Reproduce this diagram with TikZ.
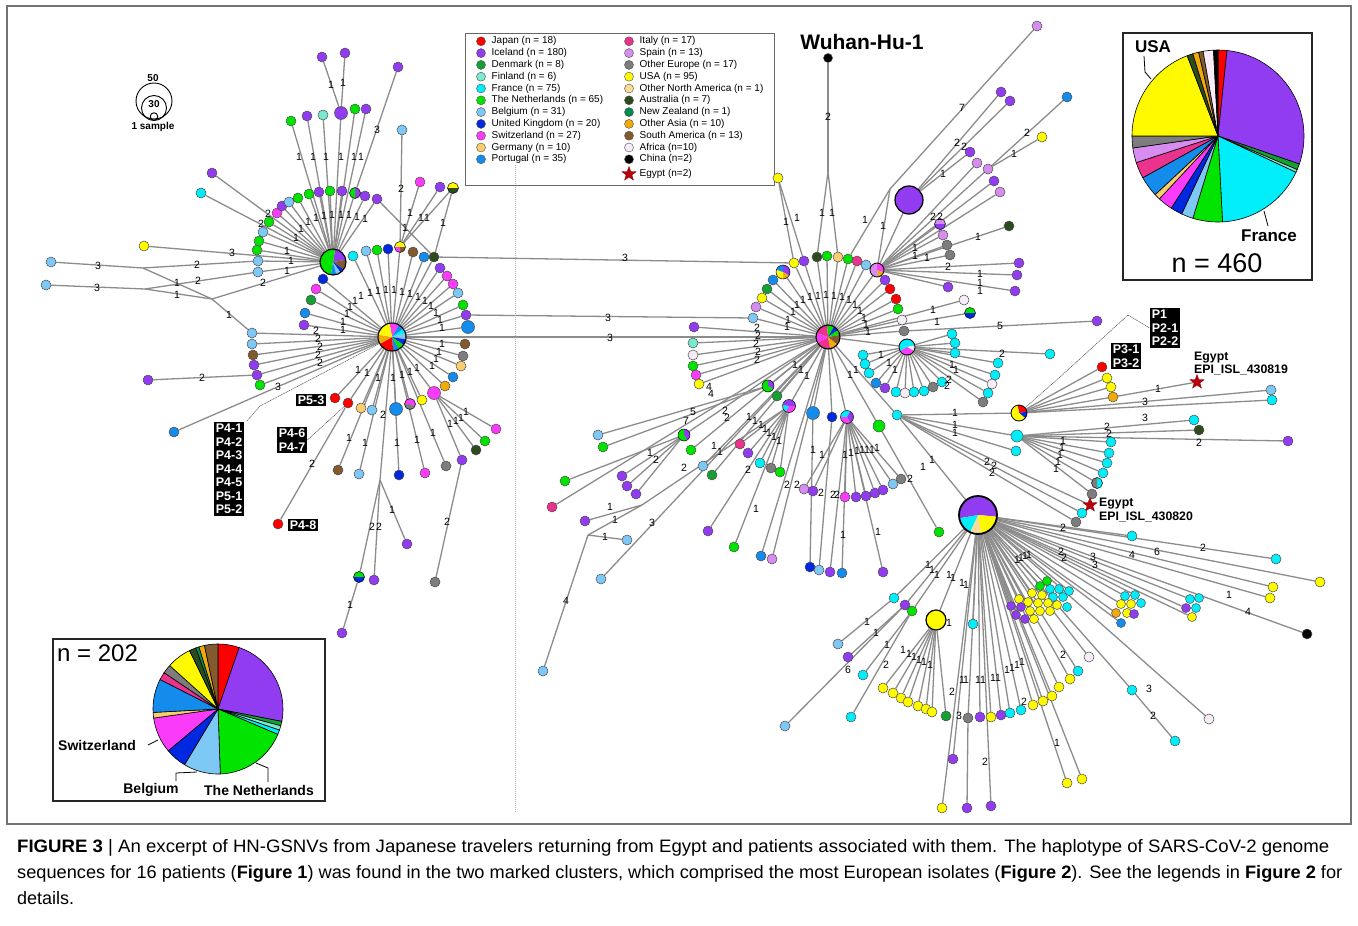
\documentclass[tikz,border=0pt]{standalone}
\usepackage{fontspec}
\setmainfont{Liberation Sans}
\usetikzlibrary{shapes.geometric}
\pgfdeclarelayer{back}
\pgfdeclarelayer{bg}
\pgfsetlayers{back,bg,main}
\definecolor{JP}{RGB}{255,0,0}
\definecolor{IS}{RGB}{145,60,240}
\definecolor{DK}{RGB}{20,160,50}
\definecolor{FI}{RGB}{120,235,205}
\definecolor{FR}{RGB}{0,238,250}
\definecolor{NL}{RGB}{0,228,0}
\definecolor{BE}{RGB}{125,200,245}
\definecolor{UK}{RGB}{0,40,225}
\definecolor{CH}{RGB}{250,60,250}
\definecolor{DE}{RGB}{250,205,110}
\definecolor{PT}{RGB}{20,140,235}
\definecolor{IT}{RGB}{235,50,140}
\definecolor{ES}{RGB}{215,140,240}
\definecolor{OE}{RGB}{125,125,125}
\definecolor{US}{RGB}{255,250,0}
\definecolor{ONA}{RGB}{250,220,150}
\definecolor{AU}{RGB}{45,75,30}
\definecolor{NZ}{RGB}{0,140,80}
\definecolor{OA}{RGB}{240,170,10}
\definecolor{SA}{RGB}{130,90,45}
\definecolor{AF}{RGB}{248,236,248}
\definecolor{CN}{RGB}{0,0,0}
\definecolor{EG}{RGB}{185,0,10}
\definecolor{EC}{RGB}{140,140,140}
\tikzset{
 e/.style={draw=EC, line width=1.3pt},
 thinl/.style={draw=black!75, line width=0.45pt, dash pattern=on 1.2pt off 0.6pt},
 nd/.style={circle, draw=black!70, line width=0.5pt, minimum size=10pt, inner sep=0pt},
 cl/.style={nd, minimum size=9pt},
 lb/.style={font=\fontsize{10.5}{10.5}\selectfont, inner sep=0pt},
 pbox/.style={fill=black, text=white, font=\bfseries\fontsize{12.5}{13.5}\selectfont, inner sep=2pt, align=left},
 leg/.style={font=\fontsize{10}{10}\selectfont, anchor=west, inner sep=0pt},
 legdot/.style={circle, draw=black!70, line width=0.4pt, minimum size=9pt, inner sep=0pt},
 egstar/.style={star, star points=5, star point ratio=2.4, fill=EG, draw=EG!70!black, line width=0.3pt, minimum size=15pt, inner sep=0pt},
 elab/.style={font=\bfseries\fontsize{12.3}{12}\selectfont, anchor=west, inner sep=0pt},
 boxed/.style={draw=black!85, line width=1.4pt},
 captxt/.style={anchor=base west, inner sep=0pt, font=\fontsize{18}{20}\selectfont},
}
\newcommand\leaves[2]{\foreach \lX/\lY/\lC [count=\lI] in {#2} {\node[nd, fill=\lC] (#1\lI) at (\lX,\lY) {};}}
\newcommand\cleaves[2]{\foreach \lX/\lY/\lC [count=\lI] in {#2} {\node[cl, fill=\lC] (#1\lI) at (\lX,\lY) {};}}
\newcommand\fan[3]{\foreach \fX in {#3} {\draw[e] (#1) -- (#2\fX);}}
\newcommand\pienode[5][1.1pt]{\node[circle, minimum size=#4*2pt, inner sep=0pt] (#2) at (#3) {};
 \foreach \sA/\sB/\sC in {#5} {\fill[fill=\sC] (#2.center) -- ++(\sA:#4pt) arc[start angle=\sA, end angle=\sB, radius=#4pt] -- cycle;}
 \draw[line width=#1] (#2.center) circle[radius=#4pt];}
\newcommand\bigpie[3]{\foreach \sA/\sB/\sC in {#3} {\filldraw[fill=\sC, draw=black, line width=0.6pt] (#1) -- ++(\sA:#2pt) arc[start angle=\sA, end angle=\sB, radius=#2pt] -- cycle;}}
\newcommand\labs[2]{\foreach \tX/\tY/\tT [count=\tI] in {#2} {\node[lb] (#1\tI) at (\tX,\tY) {\tT};}}
\begin{document}
\begin{tikzpicture}[x=1pt,y=-1pt]
\useasboundingbox (0,0) rectangle (1358,926);
\begin{pgfonlayer}{back}
\fill[white] (0,0) rectangle (1358,926);
\end{pgfonlayer}
\draw[black!55, line width=1.2pt] (7,6) rectangle (1351,824);
\draw[black!30, line width=0.8pt, dash pattern=on 1pt off 1pt] (515,165) -- (515,812);

% ---------- scale legend ----------
\node[circle, draw=black, line width=0.9pt, minimum size=36pt, inner sep=0pt] (s50) at (154,101) {};
\node[circle, draw=black, line width=0.9pt, minimum size=25pt, inner sep=0pt] (s30) at (154,108) {};
\node[circle, draw=black, line width=0.9pt, minimum size=7.5pt, inner sep=0pt] (s1) at (154,116.5) {};
\node[font=\bfseries\fontsize{10}{10}\selectfont, inner sep=0pt] (t50) at (153,78) {50};
\node[font=\bfseries\fontsize{10}{10}\selectfont, inner sep=0pt] (t30) at (154,104) {30};
\node[font=\bfseries\fontsize{10}{10}\selectfont, inner sep=0pt] (t1) at (153,127) {1 sample};

% ---------- legend ----------
\node[draw=black!60, line width=1pt, minimum width=309pt, minimum height=152pt, anchor=north west, inner sep=0pt] (legbox) at (465,33) {};
\foreach \gT/\gC [count=\gI] in {Japan (n = 18)/JP, Iceland (n = 180)/IS, Denmark (n = 8)/DK, Finland (n = 6)/FI, France (n = 75)/FR, The Netherlands (n = 65)/NL, Belgium (n = 31)/BE, United Kingdom (n = 20)/UK, Switzerland (n = 27)/CH, Germany (n = 10)/DE, Portugal (n = 35)/PT}
 {\node[legdot, fill=\gC] (ld\gI) at (481, 29.5+11.8*\gI) {}; \node[leg] (lt\gI) at (491.5, 29.5+11.8*\gI) {\gT};}
\foreach \gT/\gC [count=\gI] in {Italy (n = 17)/IT, Spain (n = 13)/ES, Other Europe (n = 17)/OE, USA (n = 95)/US, Other North America (n = 1)/ONA, Australia (n = 7)/AU, New Zealand (n = 1)/NZ, Other Asia (n = 10)/OA, South America (n = 13)/SA, Africa (n=10)/AF, China (n=2)/CN}
 {\node[legdot, fill=\gC] (rd\gI) at (629, 29.5+11.8*\gI) {}; \node[leg] (rt\gI) at (639.5, 29.5+11.8*\gI) {\gT};}
\node[egstar] (rdeg) at (629,174) {};
\node[leg] (rteg) at (639.5,174) {Egypt (n=2)};

% ---------- Wuhan ----------
\node[font=\bfseries\fontsize{21}{21}\selectfont, inner sep=0pt] (wutxt) at (862,42) {Wuhan-Hu-1};

% ---------- pie boxes ----------
\draw[boxed] (1123,33) rectangle (1312,280);
\coordinate (pR) at (1218,136);
\bigpie{pR}{86}{90/84/JP, 84/-19/IS, -19/-23/DK, -23/-25/FI, -25/-87/FR, -87/-107/NL, -107/-115/BE, -115/-123/UK, -123/-133/CH, -133/-137/DE, -137/-151/PT, -151/-162/IT, -162/-172/ES, -172/-180/OE, -180/-249/US, -249/-253/AU, -253/-257/OA, -257/-260/SA, -260/-267/AF, -267/-270/CN}
\node[font=\bfseries\fontsize{17}{17}\selectfont, inner sep=0pt] (usat) at (1153,47) {USA};
\draw[black, line width=0.8pt] (1144,56) -- (1145,72) -- (1151,79);
\node[font=\bfseries\fontsize{17}{17}\selectfont, inner sep=0pt] (frt) at (1269,236) {France};
\draw[black, line width=0.8pt] (1264,211) -- (1268,226);
\node[font=\fontsize{27}{27}\selectfont, inner sep=0pt] (n460) at (1217,263) {n = 460};

\draw[boxed] (53,639) rectangle (325,801);
\coordinate (pL) at (218,709);
\bigpie{pL}{65}{90/71/JP, 71/-11/IS, -11/-15/DK, -15/-19/FI, -19/-23/FR, -23/-88/NL, -88/-121/BE, -121/-140/UK, -140/-172/CH, -172/-177/DE, -177/-207/PT, -207/-214/IT, -214/-222/OE, -222/-244/US, -244/-250/AU, -250/-253/NZ, -253/-258/OA, -258/-270/SA}
\node[font=\fontsize{24}{24}\selectfont, inner sep=0pt, anchor=west] (n202) at (57,653) {n = 202};
\node[font=\bfseries\fontsize{14}{14}\selectfont, inner sep=0pt, anchor=west] (swt) at (58,745) {Switzerland};
\draw[black, line width=0.8pt] (148,745) -- (158,740);
\node[font=\bfseries\fontsize{14}{14}\selectfont, inner sep=0pt] (bet) at (151,790) {Belgium};
\draw[black, line width=0.8pt] (176,781) -- (176,773) -- (197,772);
\node[font=\bfseries\fontsize{14}{14}\selectfont, inner sep=0pt] (nlt) at (259,790) {The Netherlands};
\draw[black, line width=0.8pt] (268,782) -- (268,768) -- (256,763);

% ================= LEFT NETWORK =================
\pienode{hA}{333,262}{13}{80/10/IS, 10/-35/SA, -35/-55/UK, -55/-75/BE, -75/-100/PT, -100/-280/NL}
\pienode{hB}{392,337}{14}{100/60/CH, 60/35/PT, 35/15/FR, 15/-10/BE, -10/-35/UK, -35/-60/NL, -60/-85/PT, -85/-150/JP, -150/-190/OA, -190/-260/US}
\leaves{a}{258/272/BE, 258/261/BE, 257/250/NL, 259/241/NL, 263/232/BE, 269/222/NL, 277/213/CH, 282/206/IS, 289/202/BE, 298/198/NL, 309/194/NL, 319/192/IS, 330/191/NL, 342/191/IS, 365/196/IS, 377/199/IS}
\pienode[0.5pt]{aP}{355,193}{5.5}{90/-90/IS, -90/-270/NL}
\leaves{at}{291/121/NL, 307/116/IS, 323/115/FI, 355/109/NL, 366/109/IS}
\node[nd, fill=IS, minimum size=13pt] (aBig) at (341,113) {};
\leaves{aT}{322/57/IS, 345/53/IS, 398/67/IS}
\leaves{aL}{144/246/US, 201/193/FR, 212/173/IS, 51/262/BE, 46/285/BE}
\coordinate (J1) at (143,268); \coordinate (J2) at (145,289); \coordinate (J3) at (212,299);

\leaves{b}{252/333/BE, 252/344/BE, 253/355/SA, 254/365/IS, 257/375/IS, 260/385/NL, 323/279/UK, 316/289/CH, 311/300/DK, 305/313/PT, 304/325/IS, 353/256/FR, 366/251/BE, 377/250/NL, 388/249/UK, 413/252/SA, 424/257/PT, 440/268/IS, 447/276/CH, 453/284/CH, 458/293/BE, 463/305/NL, 466/315/IS, 465/344/SA, 463/356/OE, 461/366/DE, 453/377/PT, 445/386/OA, 422/400/US, 372/410/BE, 361/408/DE, 348/403/JP, 335/398/JP}
\node[nd, fill=PT, minimum size=13pt] (bBig1) at (468,327) {};
\node[nd, fill=CH, minimum size=13pt] (bBig2) at (434,393) {};
\node[nd, fill=PT, minimum size=13pt] (bBig3) at (396,409) {};
\pienode[0.5pt]{bP1}{400,247}{5.5}{180/0/US, 0/-90/SA, -90/-180/CH}
\pienode[0.5pt]{bP2}{410,404}{5.5}{180/-30/CH, -30/-180/OE}
\node[nd, fill=AU] (bDG) at (434,257) {};
\pienode[0.5pt]{bY2}{453,188}{5.5}{180/0/US, 0/-180/AU}
\leaves{bX}{148/380/IS, 174/432/PT}
\leaves{bl}{338/470/SA, 359/474/BE, 399/475/UK, 425/473/CH, 446/466/OE}
\leaves{bm}{496/429/CH, 485/441/NL, 476/450/AU, 462/460/IS}
\node[nd, fill=OE] (bg) at (435,582) {};
\coordinate (jB) at (380,480);
\leaves{bj}{407/544/IS, 374/580/IS, 342/633/IS}
\pienode[0.5pt]{bjP}{359,577}{5.5}{180/0/NL, 0/-180/UK}
\node[nd, fill=JP] (p48) at (278,524) {};
\leaves{bT}{402/130/BE, 420/182/CH, 440/187/IS}

% P boxes left
\node[pbox] (boxP53) at (311,400) {P5-3};
\node[pbox] (boxP46) at (292,440) {P4-6\\P4-7};
\node[pbox] (boxP41) at (229,469) {P4-1\\P4-2\\P4-3\\P4-4\\P4-5\\P5-1\\P5-2};
\node[pbox] (boxP48) at (303,525) {P4-8};
\coordinate (tk1) at (260,406); \coordinate (tk2) at (247,421);

% ================= RIGHT NETWORK =================
\pienode{hC}{828,337}{12}{95/60/NL, 60/35/UK, 35/10/NL, 10/-40/SA, -40/-80/OA, -80/-150/IT, -150/-200/CH, -200/-265/IT}
\leaves{c}{773/280/PT, 767/289/DK, 762/298/US, 756/307/ES, 753/318/BE, 794/263/US, 804/261/IS, 817/257/AU, 827/256/NL, 838/257/DE, 848/259/NL, 857/261/IT, 866/265/BE, 885/280/IS, 890/289/JP, 896/299/JP, 898/309/NL, 902/320/AF, 904/331/OE, 694/327/IS, 693/343/FI, 693/355/AF, 693/366/NL, 696/375/CH, 699/384/US, 777/396/DK, 832/417/UK}
\node[nd, fill=PT, minimum size=13pt] (cBig) at (813,413) {};
\pienode[0.5pt]{cP1}{783,272}{7}{90/-30/IS, -30/-90/OA, -90/-200/US, -200/-270/PT}
\pienode[0.5pt]{cP2}{768,386}{6}{90/-30/IS, -30/-270/NL}
\pienode[0.5pt]{cP3}{789,406}{6.5}{90/0/IS, 0/-120/CH, -120/-190/FR, -190/-270/IS}
\pienode[0.5pt]{cP4}{847,417}{6.5}{180/60/FR, 60/-60/IS, -60/-180/CH}
\node[nd, fill=CN, minimum size=9pt] (wu) at (828,58) {};
\coordinate (wj) at (828,172);
\node[nd, fill=US] (cy) at (778,178) {};

\pienode[0.8pt]{hD}{877,270}{7}{90/-20/CH, -20/-80/OA, -80/-270/ES}
\leaves{d}{970/152/IS, 977/163/ES, 988/169/ES, 994/181/IS, 1000/192/ES, 943/235/ES, 947/245/OE, 950/255/OE, 1019/263/IS, 1017/275/IS, 948/287/IS, 1015/291/IS, 1009/226/AU}
\pienode[0.5pt]{dP}{940,224}{5.5}{180/0/ES, 0/-180/IS}
\node[circle, draw=black, line width=1.2pt, fill=IS, minimum size=28pt, inner sep=0pt] (dB) at (909,200) {};
\leaves{dF}{1037/26/ES, 1001/92/IS, 1010/101/IS, 1067/97/PT, 1042/137/US}
\coordinate (jD7) at (890,189);

\pienode[0.8pt]{hE}{907,347}{8}{170/10/FR, 10/-30/AF, -30/-150/CH, -150/-190/FR}
\leaves{e}{863/355/FR, 865/364/FR, 869/373/FR, 876/383/PT, 885/388/IS, 896/392/FR, 905/393/AF, 914/392/FR, 924/391/FR, 933/387/OE, 942/382/FR, 952/334/FR, 955/343/FR, 955/353/FR}
\leaves{eF}{998/363/FR, 995/375/FR, 992/384/AF, 988/393/FR, 983/402/OE, 1050/354/FR}
\node[nd, fill=AF] (cx1) at (964,300) {};
\pienode[0.5pt]{cx2}{970,313}{5.5}{180/0/NL, 0/-180/UK}
\node[nd, fill=IS] (cx3) at (1097,321) {};

\node[nd, fill=FR] (cQ) at (897,415) {};
\pienode[0.8pt]{hF}{1019,413}{8}{100/10/JP, 10/-40/UK, -40/-260/US}
\leaves{f}{1102/367/JP, 1107/378/US, 1111/387/US, 1113/397/OA, 1271/390/BE, 1272/400/FR}
\node[egstar] (star1) at (1197,382) {};
\node[elab] (eg1a) at (1194,358) {Egypt};
\node[elab] (eg1b) at (1194,370) {EPI\_ISL\_430819};
\node[pbox] (boxP1) at (1165,328) {P1\\P2-1\\P2-2};
\node[pbox] (boxP3) at (1126,356) {P3-1\\P3-2};
\coordinate (tk3) at (1060,377); \coordinate (tk4) at (1128,315);

\node[nd, fill=FR, minimum size=12pt] (hH) at (1017,436) {};
\leaves{h}{1194/420/FR, 1199/430/AU, 1288/441/IS, 1111/442/FR, 1109/453/FR, 1107/463/FR, 1103/473/FR, 1092/494/OE, 1016/451/FR}
\pienode[0.5pt]{hP}{1097,483}{5.5}{90/-90/FR, -90/-270/OE}
\node[egstar] (star2) at (1090,505) {};
\node[elab] (eg2a) at (1099,504) {Egypt};
\node[elab] (eg2b) at (1099,517) {EPI\_ISL\_430820};
\leaves{gz}{1082/513/FR, 1076/522/OE}

\pienode[1.8pt]{hG}{978,515}{19}{190/-5/IS, -5/-80/US, -80/-115/ONA, -115/-170/FR}
\leaves{g}{1132/536/FR, 1276/559/FR, 1320/582/US, 1273/587/US, 1270/598/US, 1307/634/CN}
\cleaves{q}{1040/586/NL, 1047/581/NL, 1050/589/FR, 1059/589/FR, 1069/591/FR, 1053/597/FR, 1063/597/FR, 1067/607/FR, 1032/593/US, 1042/595/US, 1019/599/US, 1028/602/US, 1038/603/US, 1048/603/US, 1057/605/US, 1030/611/US, 1040/611/US, 1050/611/US, 1034/619/US, 1011/606/IS, 1021/607/IS, 1016/615/IS, 1025/619/IS}
\cleaves{r}{1125/596/FR, 1135/595/FR, 1121/604/US, 1131/604/US, 1141/603/FR, 1116/613/OA, 1127/613/US, 1134/614/IS, 1121/623/PT}
\cleaves{s}{1190/599/FR, 1199/598/FR, 1186/608/IS, 1196/608/FR, 1192/617/US}
\node[circle, draw=black, line width=1.2pt, fill=US, minimum size=20pt, inner sep=0pt] (hY) at (936,620) {};
\leaves{y}{883/688/US, 893/693/US, 901/698/US, 908/702/US, 918/706/US, 926/709/US, 932/712/US, 946/716/DK}
\leaves{gl}{894/598/FR, 905/605/IS, 912/611/NL, 838/644/BE, 848/657/IS, 863/675/FR, 851/717/FR, 785/726/BE, 973/624/FR}
\leaves{ga}{968/718/OE, 980/717/IS, 991/717/US, 1001/715/IS, 1010/713/FR, 1021/710/FR, 1033/705/US, 1043/701/US, 1052/696/US, 1059/687/US, 1070/679/US, 1078/671/FR, 1089/657/AF, 1132/690/FR, 1209/719/AF, 1175/741/FR}
\leaves{gb}{942/808/US, 967/808/IS, 991/806/IS, 953/759/IS, 1067/783/US, 1082/779/US}

\leaves{k}{598/435/BE, 603/447/NL, 565/481/NL, 552/507/IT, 622/476/IS, 627/486/IS, 636/494/IS, 691/450/NL, 585/521/IS, 627/540/BE, 601/579/BE, 543/671/BE, 740/444/IT, 748/453/IS, 760/463/FR, 771/468/OE, 780/472/NL, 703/466/BE, 712/475/DK, 708/531/IS, 734/547/NL, 761/556/PT, 772/559/ES}
\pienode[0.5pt]{kP}{684,435}{6}{90/-60/IS, -60/-270/NL}
\coordinate (Jk) at (642,505); \coordinate (JL) at (588,535);
\leaves{m}{804/489/ES, 813/491/IS, 845/497/CH, 856/497/IS, 866/496/IS, 875/493/IS, 883/490/IS, 893/484/BE, 901/479/OE}
\leaves{n}{810/567/UK, 819/570/BE, 830/572/IS, 842/573/PT, 883/572/IS}
\node[nd, fill=NL, minimum size=12pt] (gr1) at (879,426) {};
\node[nd, fill=NL] (gr2) at (939,532) {};

% ================= EDGES =================
\begin{pgfonlayer}{bg}
% hub A
\fan{hA}{a}{1,...,16}
\draw[e] (hA) -- (aP);
\fan{hA}{at}{1,...,5}
\draw[e] (hA) -- (aBig); \draw[e] (aBig) -- (aT1); \draw[e] (aBig) -- (aT2); \draw[e] (aT3) -- (aP);
\draw[e] (aL1) -- (hA); \draw[e] (aL2) -- (hA); \draw[e] (aL3) -- (hA);
\draw[e] (aL4) -- (J1) -- (a2); \draw[e] (J1) -- (J3);
\draw[e] (aL5) -- (J2) -- (a1); \draw[e] (J2) -- (J3);
\draw[e] (J3) -- (hA); \draw[e] (J3) -- (b1);
\draw[e] (a16) -- (bDG);
% hub B
\fan{hB}{b}{1,...,33}
\draw[e] (hB) -- (bBig1); \draw[e] (hB) -- (bBig2); \draw[e] (hB) -- (bBig3);
\draw[e] (hB) -- (bP1); \draw[e] (hB) -- (bP2); \draw[e] (hB) -- (bDG);
\draw[e] (bX1) -- (b5); \draw[e] (bX2) -- (hB);
\fan{hB}{bl}{1,...,5}
\fan{bBig2}{bm}{1,...,4}
\draw[e] (bm4) -- (bg);
\draw[e] (hB) -- (jB); \draw[e] (jB) -- (bj1); \draw[e] (jB) -- (bj2); \draw[e] (jB) -- (bjP); \draw[e] (bjP) -- (bj3);
\draw[e] (b32) -- (p48);
\fan{bP1}{bT}{1,2,3}
\draw[e] (bDG) -- (bY2); \draw[e] (bY2) -- (bP1);
% long links
\draw[e] (bDG) -- (c6);
\draw[e] (b23) -- (c5);
\draw[e] (hB) -- (hC);
% hub C
\fan{hC}{c}{1,...,27}
\draw[e] (hC) -- (cBig); \draw[e] (hC) -- (cP1); \draw[e] (hC) -- (cP2); \draw[e] (hC) -- (cP3); \draw[e] (hC) -- (cP4);
\draw[e] (hC) -- (hD); \draw[e] (hC) -- (hE); \draw[e] (hC) -- (cQ); \draw[e] (hC) -- (gr1); \draw[e] (hC) -- (kP);
\draw[e] (wu) -- (wj); \draw[e] (wj) -- (c8); \draw[e] (wj) -- (c10);
\draw[e] (cy) -- (c6); \draw[e] (cy) -- (c7);
% hub D
\fan{hD}{d}{2,...,13}
\draw[e] (hD) -- (dP); \draw[e] (hD) -- (dB);
\draw[e] (dB) -- (d1); \draw[e] (dB) -- (dF2); \draw[e] (dB) -- (dF3);
\draw[e] (d3) -- (dF4); \draw[e] (d3) -- (dF5);
\draw[e] (dF1) -- (jD7); \draw[e] (jD7) -- (c11); \draw[e] (jD7) -- (hD);
% hub E
\fan{hE}{e}{1,...,14}
\fan{hE}{eF}{1,...,6}
\draw[e] (hC) -- (cx1); \draw[e] (hC) -- (cx2); \draw[e] (c19) -- (cx3);
% F, H
\draw[e] (cQ) -- (hF);
\fan{hF}{f}{1,...,6}
\draw[e] (f4) -- (star1);
\draw[e] (cQ) -- (hH);
\fan{hH}{h}{1,...,8}
\draw[e] (hH) -- (hP); \draw[e] (cQ) -- (h9);
\draw[e] (cQ) -- (star2); \draw[e] (cQ) -- (gz1); \draw[e] (cQ) -- (gz2);
% G
\draw[e] (cQ) -- (hG); \draw[e] (gr1) -- (gr2);
\fan{hG}{g}{1,...,6}
\fan{hG}{q}{1,3,5,9,11,13,16,20,22}
\fan{hG}{r}{1,2,3,6,9}
\fan{hG}{s}{1,3,5}
\draw[e] (hG) -- (hY);
\fan{hY}{y}{1,...,8}
\fan{hG}{gl}{1,2,3,9}
\draw[e] (gl1) -- (gl4); \draw[e] (gl2) -- (gl5); \draw[e] (gl3) -- (gl6); \draw[e] (gl3) -- (gl7); \draw[e] (gl2) -- (gl8);
\fan{hG}{ga}{1,...,15}
\draw[e] (ga14) -- (ga16);
\draw[e] (ga1) -- (gb2); \draw[e] (hG) -- (gb1); \draw[e] (hG) -- (gb3); \draw[e] (hG) -- (gb4); \draw[e] (hG) -- (gb5); \draw[e] (hG) -- (gb6);
% lower-left of C
\draw[e] (k1) -- (cP2); \draw[e] (k2) -- (cP2); \draw[e] (k3) -- (kP); \draw[e] (k4) -- (hC);
\draw[e] (k5) -- (kP); \draw[e] (k6) -- (kP); \draw[e] (k7) -- (kP); \draw[e] (k8) -- (hC);
\draw[e] (k9) -- (Jk); \draw[e] (Jk) -- (cP3); \draw[e] (JL) -- (k10); \draw[e] (JL) -- (k12); \draw[e] (JL) -- (Jk);
\draw[e] (k11) -- (hC);
\fan{cP3}{k}{13,...,17,20,21}
\draw[e] (k18) -- (hC); \draw[e] (k19) -- (hC); \draw[e] (k22) -- (hC); \draw[e] (k23) -- (hC);
\fan{cP4}{m}{1,...,9}
\draw[e] (n1) -- (cBig); \draw[e] (n2) -- (c27); \fan{cP4}{n}{3,4,5}
% thin leader lines
\draw[thinl] (hB) -- (tk1) -- (tk2);
\draw[thinl] (b32) -- (boxP46.east);
\draw[thinl] (hF) -- (tk3) -- (tk4) -- (boxP1.west);
\end{pgfonlayer}

% ================= EDGE LABELS =================
\labs{la}{331/85/1, 343/83/1, 299/157/1, 313/157/1, 326/157/1, 341/157/1, 354/157/1, 361/157/1, 377/130/3, 232/253/3, 98/266/3, 197/265/2, 177/283/1, 177/295/1, 198/281/2, 97/288/3, 263/283/2, 229/315/1, 268/214/2, 261/224/2, 287/251/1, 291/261/1, 287/271/1, 296/238/1, 301/229/1, 308/222/1, 316/218/1, 324/216/1, 332/215/1, 341/215/1, 349/215/1, 357/217/1, 365/219/1}
\labs{lb}{401/189/2, 410/213/1, 421/218/1, 427/218/1, 443/223/1, 405/228/1, 316/331/2, 318/339/2, 320/347/2, 318/355/2, 320/363/2, 202/378/2, 278/387/3, 343/330/1, 343/322/1, 347/314/1, 350/307/1, 355/301/1, 361/296/1, 370/293/1, 378/291/1, 386/290/1, 394/290/1, 402/292/1, 410/294/1, 418/297/1, 425/301/1, 431/306/1, 436/313/1, 440/320/1, 442/328/1, 442/344/1, 439/352/1, 436/359/1, 432/366/1, 358/370/1, 367/373/1, 378/378/1, 393/378/1, 402/375/1, 410/372/1, 417/368/1, 349/438/1, 365/443/1, 397/443/1, 417/440/1, 433/433/1, 383/415/2, 392/510/1, 372/527/2, 379/527/2, 350/605/1, 447/522/2, 312/464/2, 466/412/1, 461/418/1, 456/421/1, 450/424/1, 625/258/3, 608/318/3, 610/338/3}
\labs{lc}{828/117/2, 822/213/1, 832/213/1, 786/222/1, 797/218/1, 757/328/2, 758/336/2, 756/344/2, 758/352/2, 757/360/2, 709/387/4, 711/394/4, 787/327/1, 788/320/1, 793/312/1, 797/305/1, 803/300/1, 810/297/1, 818/296/1, 826/295/1, 834/296/1, 842/297/1, 849/300/1, 855/305/1, 860/311/1, 864/318/1, 866/325/1, 868/332/1, 795/365/1, 801/370/1, 807/376/1, 850/375/1, 856/370/1}
\labs{ld}{865/220/1, 883/226/1, 962/108/7, 957/143/2, 964/147/2, 1027/133/2, 1014/154/1, 943/174/1, 978/237/1, 948/267/2, 980/274/1, 980/283/1, 980/291/1, 915/248/1, 915/256/1, 927/258/1, 933/217/2, 940/217/2}
\labs{le}{933/310/1, 937/322/1, 1000/326/5, 1002/354/2, 952/365/1, 956/370/1, 949/380/2, 947/386/2, 881/355/1, 889/363/1, 895/370/1}
\labs{lf}{955/413/1, 1158/389/1, 1145/402/3, 955/425/1, 955/433/1, 1145/418/3, 1107/427/2, 1109/434/2, 1199/443/2, 1063/441/1, 1062/448/1, 1060/455/1, 1058/462/1, 1056/469/1, 987/462/2, 994/466/2, 992/473/2}
\labs{lg}{932/460/1, 923/467/1, 1063/528/2, 1203/548/2, 1157/552/6, 1132/555/4, 1229/595/1, 1248/612/4, 1017/560/1, 1021/558/1, 1025/556/1, 1029/555/1, 1061/552/2, 1064/558/2, 1093/557/3, 1095/565/3, 928/565/1, 932/570/1, 937/575/1, 949/575/1, 953/578/1, 962/583/1, 966/585/1, 949/623/1, 903/650/1, 909/654/1, 914/657/1, 919/660/1, 924/662/1, 930/665/1, 886/665/2, 867/622/1, 876/633/1, 887/645/1, 848/670/6, 952/692/2, 959/716/3, 1024/702/2, 985/762/2, 1057/743/1, 1149/689/3, 1153/716/2, 1063/655/2, 962/680/1, 966/680/1, 978/680/1, 983/680/1, 993/678/1, 998/678/1, 1007/670/1, 1012/668/1, 1017/665/1, 1022/662/1}
\labs{lk}{693/412/5, 725/411/2, 727/418/2, 686/421/7, 650/453/1, 656/460/2, 610/507/1, 615/520/1, 605/537/1, 566/601/4, 652/523/3, 684/468/2, 756/509/1, 748/470/2, 714/446/1, 720/452/1, 749/417/1, 755/421/1, 761/425/1, 765/429/1, 769/433/1, 774/437/1, 779/441/1, 843/535/1, 878/532/1, 813/450/1, 822/455/1, 787/485/2, 797/485/2, 821/493/2, 833/495/2, 837/495/2, 910/479/2, 845/455/1, 851/453/1, 857/451/1, 862/450/1, 867/450/1, 872/450/1, 877/448/1}

% ================= CAPTION =================
\node[captxt] (cap1) at (17,852) {\resizebox{1312pt}{\height}{\textbf{FIGURE 3} | An excerpt of HN-GSNVs from Japanese travelers returning from Egypt and patients associated with them. The haplotype of SARS-CoV-2 genome}};
\node[captxt] (cap2) at (17,878) {\resizebox{1325pt}{\height}{sequences for 16 patients (\textbf{Figure 1}) was found in the two marked clusters, which comprised the most European isolates (\textbf{Figure 2}). See the legends in \textbf{Figure 2} for}};
\node[captxt] (cap3) at (17,904) {details.};
\end{tikzpicture}
\end{document}
